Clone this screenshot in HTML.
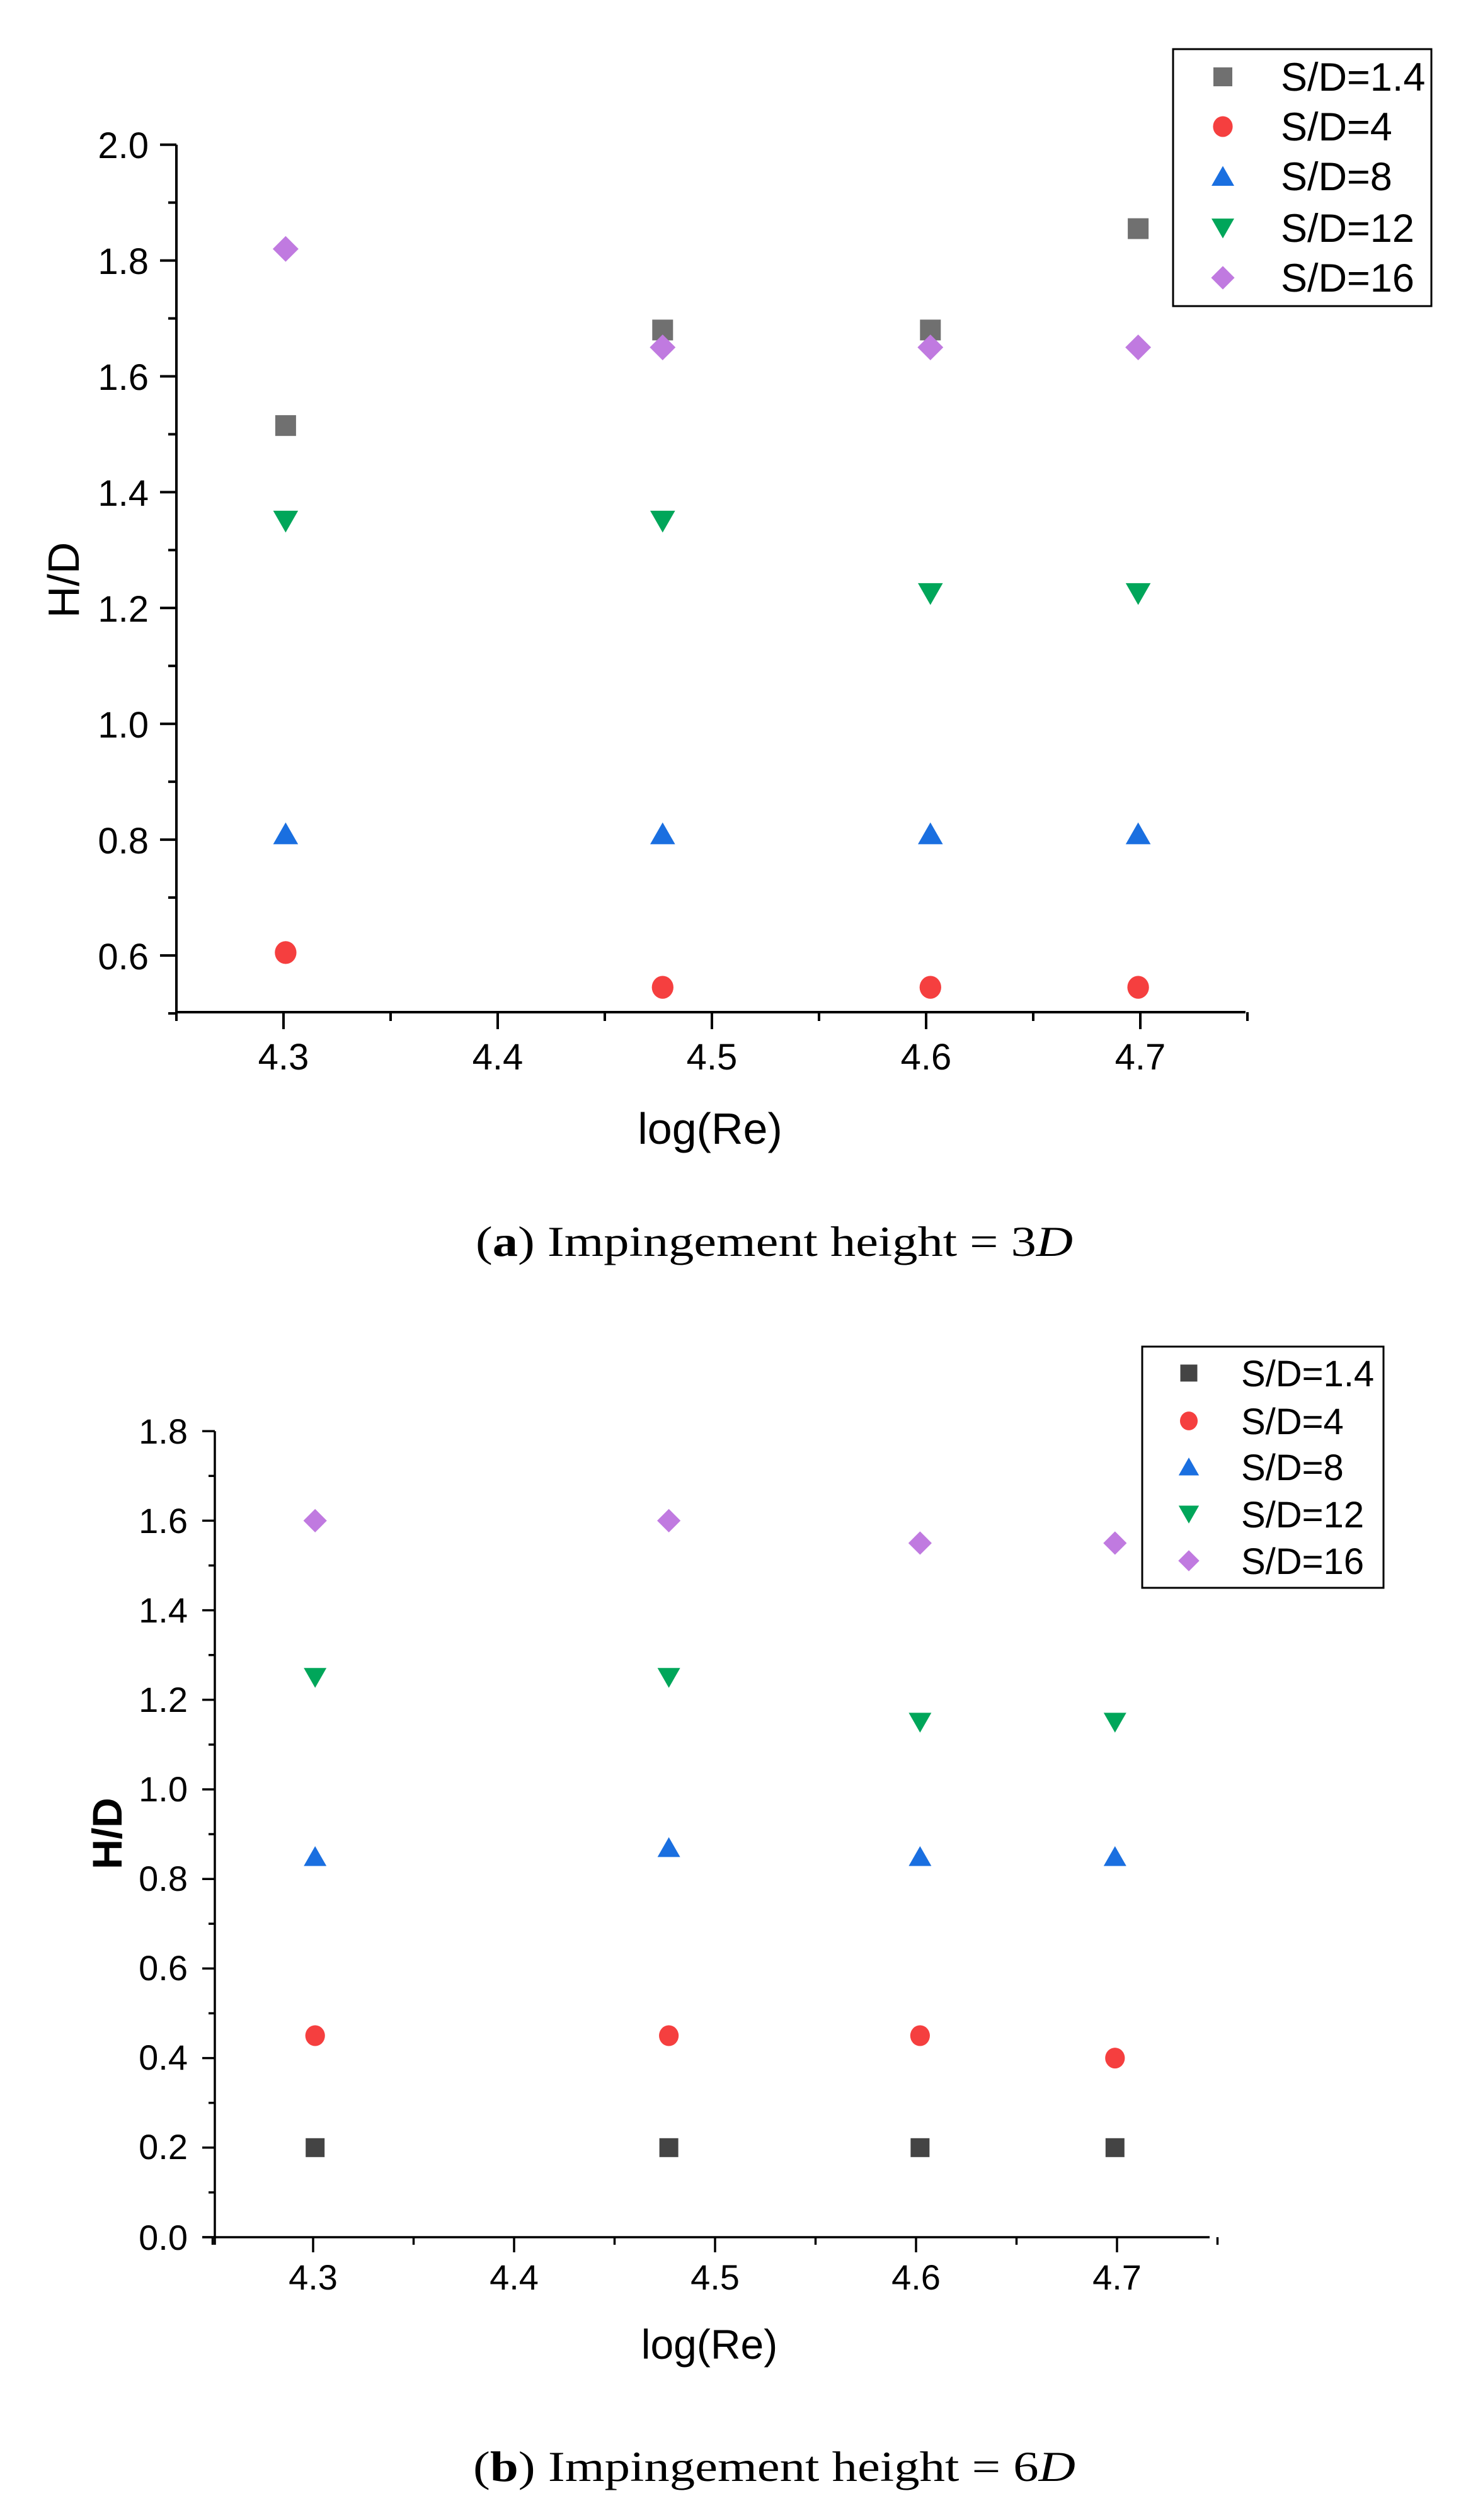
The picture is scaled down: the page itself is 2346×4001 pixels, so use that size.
<!DOCTYPE html>
<html><head><meta charset="utf-8"><style>
html,body{margin:0;padding:0;background:#fff}
svg{display:block}
text{font-family:"Liberation Sans",sans-serif;fill:#000}
.cap{font-family:"Liberation Serif",serif}
</style></head><body>
<svg id="s" width="2346" height="4001" viewBox="0 0 2346 4001" xmlns="http://www.w3.org/2000/svg">
<g id="g"></g>
<!-- Top chart labels -->
<g font-size="58" text-anchor="end">
<text x="236" y="251">2.0</text>
<text x="236" y="435">1.8</text>
<text x="236" y="619">1.6</text>
<text x="236" y="803">1.4</text>
<text x="236" y="987">1.2</text>
<text x="236" y="1171">1.0</text>
<text x="236" y="1355">0.8</text>
<text x="236" y="1539">0.6</text>
</g>
<g font-size="58" text-anchor="middle">
<text x="450" y="1698">4.3</text>
<text x="790" y="1698">4.4</text>
<text x="1130" y="1698">4.5</text>
<text x="1470" y="1698">4.6</text>
<text x="1810" y="1698">4.7</text>
</g>
<text x="1127" y="1816" font-size="70" text-anchor="middle">log(Re)</text>
<text transform="translate(125,921) rotate(-90)" font-size="70" text-anchor="middle">H/D</text>
<rect x="1862" y="78" width="410" height="408" fill="none" stroke="#000" stroke-width="3"/>
<g font-size="63">
<text x="2033" y="144">S/D=1.4</text>
<text x="2033" y="223">S/D=4</text>
<text x="2033" y="302">S/D=8</text>
<text x="2033" y="384">S/D=12</text>
<text x="2033" y="463">S/D=16</text>
</g>
<text class="cap" x="755" y="1994" font-size="68" textLength="948" lengthAdjust="spacingAndGlyphs">(<tspan font-weight="bold">a</tspan>) Impingement height = 3<tspan font-style="italic">D</tspan></text>

<!-- Bottom chart labels -->
<g font-size="56" text-anchor="end">
<text x="298" y="2292">1.8</text>
<text x="298" y="2434">1.6</text>
<text x="298" y="2576">1.4</text>
<text x="298" y="2718">1.2</text>
<text x="298" y="2860">1.0</text>
<text x="298" y="3002">0.8</text>
<text x="298" y="3144">0.6</text>
<text x="298" y="3286">0.4</text>
<text x="298" y="3428">0.2</text>
<text x="298" y="3572">0.0</text>
</g>
<g font-size="56" text-anchor="middle">
<text x="497" y="3635">4.3</text>
<text x="816" y="3635">4.4</text>
<text x="1135" y="3635">4.5</text>
<text x="1454" y="3635">4.6</text>
<text x="1773" y="3635">4.7</text>
</g>
<text x="1126" y="3745" font-size="66" text-anchor="middle">log(Re)</text>
<text transform="translate(193,2911) rotate(-90)" font-size="66" text-anchor="middle" font-weight="bold">H/D</text>
<rect x="1813" y="2138" width="383" height="383" fill="none" stroke="#000" stroke-width="3"/>
<g font-size="58">
<text x="1970" y="2201">S/D=1.4</text>
<text x="1970" y="2277">S/D=4</text>
<text x="1970" y="2350">S/D=8</text>
<text x="1970" y="2425">S/D=12</text>
<text x="1970" y="2499">S/D=16</text>
</g>
<text class="cap" x="751" y="3939" font-size="68" textLength="956" lengthAdjust="spacingAndGlyphs">(<tspan font-weight="bold">b</tspan>) Impingement height = 6<tspan font-style="italic">D</tspan></text>
</svg>
<script>
var g=document.getElementById('g'),NS='http://www.w3.org/2000/svg';
function el(t,a){var e=document.createElementNS(NS,t);for(var k in a)e.setAttribute(k,a[k]);g.appendChild(e);}
function line(x1,y1,x2,y2,w){el('line',{x1:x1,y1:y1,x2:x2,y2:y2,stroke:'#000','stroke-width':w});}
var C={sq:null,ci:'#f53f3f',up:'#1a6fe0',dn:'#00a65a',di:'#c07ae0'};
function mk(type,x,y,s,sqc){
 if(type=='sq')el('rect',{x:x-s*0.5,y:y-s*0.5,width:s,height:s,fill:sqc});
 else if(type=='ci')el('ellipse',{cx:x,cy:y,rx:s*0.52,ry:s*0.55,fill:C.ci});
 else if(type=='up')el('polygon',{points:(x-s*0.6)+','+(y+s*0.5)+' '+(x+s*0.6)+','+(y+s*0.5)+' '+x+','+(y-s*0.55),fill:C.up});
 else if(type=='dn')el('polygon',{points:(x-s*0.6)+','+(y-s*0.5)+' '+(x+s*0.6)+','+(y-s*0.5)+' '+x+','+(y+s*0.55),fill:C.dn});
 else if(type=='di')el('polygon',{points:x+','+(y-s*0.62)+' '+(x+s*0.62)+','+y+' '+x+','+(y+s*0.62)+' '+(x-s*0.62)+','+y,fill:C.di});
}
// Top chart
(function(){
 var X=function(v){return 450+(v-4.3)*3400},Y=function(v){return 1517-(v-0.6)*919.5};
 var ax=280,ay=1607,w=4;
 line(ax,Y(2.0),ax,ay+2,w);line(ax-2,ay,1977,ay,w);
 for(var i=0;i<=15;i++){var v=0.5+i*0.1,y=Y(v);var maj=Math.abs((v*10)%2)<0.01||Math.abs((v*10)%2-2)<0.01;line(ax,y,ax-(maj?26:13),y,w);}
 for(var i=0;i<=10;i++){var v=4.25+i*0.05,x=X(v);var maj=(i%2==1);line(x,ay,x,ay+(maj?27:14),w);}
 var xs=[4.301,4.477,4.602,4.699];
 var d={sq:[1.515,1.68,1.68,1.855],ci:[0.605,0.545,0.545,0.545],up:[0.81,0.81,0.81,0.81],dn:[1.35,1.35,1.225,1.225],di:[1.82,1.65,1.65,1.65]};
 for(var t in d)for(var j=0;j<4;j++)mk(t,X(xs[j]),Y(d[t][j]),33,'#707070');
 var ly=[122,201,280,362,441],ts=['sq','ci','up','dn','di'];
 for(var k=0;k<5;k++)mk(ts[k],1941,ly[k],30,'#707070');
})();
// Bottom chart
(function(){
 var X=function(v){return 497+(v-4.3)*3190},Y=function(v){return 3552-v*711};
 var ax=341,ay=3552,w=3.5;
 line(ax,Y(1.8),ax,ay+12,w);line(ax-20,ay,1920,ay,w);
 for(var i=0;i<=18;i++){var y=Y(i*0.1);line(ax,y,ax-(i%2==0?20:10),y,w);}
 for(var i=0;i<=10;i++){var x=X(4.25+i*0.05);line(x,ay,x,ay+(i%2==1?24:12),w);}
 var xs=[4.301,4.477,4.602,4.699];
 var d={sq:[0.2,0.2,0.2,0.2],ci:[0.45,0.45,0.45,0.40],up:[0.85,0.87,0.85,0.85],dn:[1.25,1.25,1.15,1.15],di:[1.6,1.6,1.55,1.55]};
 for(var t in d)for(var j=0;j<4;j++)mk(t,X(xs[j]),Y(d[t][j]),30,'#444');
 var ly=[2180,2256,2329,2404,2478],ts=['sq','ci','up','dn','di'];
 for(var k=0;k<5;k++)mk(ts[k],1887,ly[k],27,'#444');
})();
</script>
</body></html>
